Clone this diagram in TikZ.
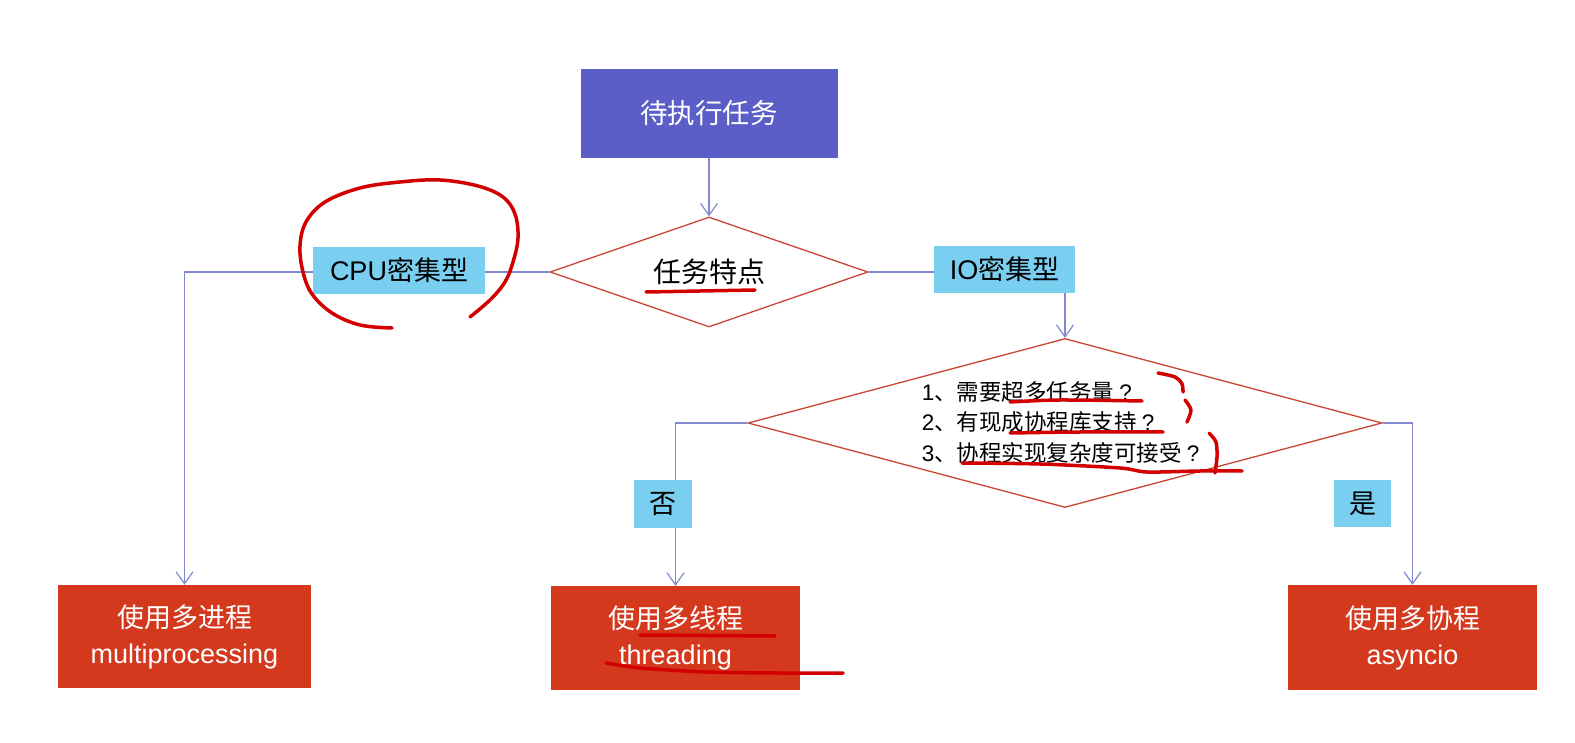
\documentclass[tikz,border=0pt]{standalone}
\usepackage{fontspec}
\setmainfont{Noto Sans CJK SC}
\newfontfamily\lat{Liberation Sans}
\newcommand\fwq{\makebox[1em][c]{\lat ?}}
\usetikzlibrary{shapes.geometric,arrows.meta}
\definecolor{topblue}{RGB}{92,94,200}
\definecolor{boxred}{RGB}{212,57,30}
\definecolor{lblue}{RGB}{122,207,240}
\definecolor{dred}{RGB}{200,70,50}
\definecolor{connc}{RGB}{128,136,208}
\definecolor{pen}{RGB}{210,0,0}
\tikzset{
  startbox/.style={rectangle, fill=topblue, text=white, inner sep=0pt, font=\fontsize{27.5}{30}\selectfont},
  endbox/.style={rectangle, fill=boxred, text=white, inner sep=0pt, align=center, font=\fontsize{27}{36}\selectfont},
  decision/.style={diamond, draw=dred, line width=1.3pt, fill=white, inner sep=0pt},
  tag/.style={rectangle, fill=lblue, text=black, inner sep=0pt, minimum height=47pt, font=\fontsize{27}{30}\selectfont},
  conn/.style={draw=connc, line width=1.2pt, -{Straight Barb[length=12pt,width=17pt,line width=1.2pt]}},
  ink/.style={draw=pen, line width=3.5pt, line cap=round, line join=round},
}
\begin{document}
\begin{tikzpicture}[x=1pt,y=-1pt]
\useasboundingbox[fill=white] (0,0) rectangle (1575,743);

% nodes
\node[startbox, minimum width=257pt, minimum height=89pt] (start) at (709,113.5) {待执行任务};
\node[decision, aspect=2.89, minimum width=318pt, minimum height=110pt, font=\fontsize{28}{30}\selectfont] (d1) at (709,272) {任务特点};
\node[decision, aspect=3.75, minimum width=634pt, minimum height=169pt] (d2) at (1065,423) {};
\node[align=left, inner sep=0pt, font=\fontsize{22.5}{30.5}\selectfont] (d2text) at (1063,422) {{\lat 1}、需要超多任务量\fwq\\{\lat 2}、有现成协程库支持\fwq\\{\lat 3}、协程实现复杂度可接受\fwq};

\node[endbox, minimum width=253pt, minimum height=103pt] (mp) at (184.5,636.5) {使用多进程\\{\lat multiprocessing}};
\node[endbox, minimum width=249pt, minimum height=104pt] (th) at (675.5,638) {使用多线程\\{\lat threading}};
\node[endbox, minimum width=249pt, minimum height=105pt] (as) at (1412.5,637.5) {使用多协程\\{\lat asyncio}};

% connectors
\draw[conn] (start.south) -- (d1.north);
\draw[conn] (d1.west) -| (mp.north);
\draw[conn] (d1.east) -| (d2.north);
\draw[conn] (d2.west) -| (th.north);
\draw[conn] (d2.east) -| (as.north);

% labels on connectors
\node[tag, minimum width=172pt] (cpu) at (399,270.5) {{\lat CPU}密集型};
\node[tag, minimum width=141pt] (io) at (1004.5,269.5) {{\lat IO}密集型};
\node[tag, minimum width=58pt, minimum height=48pt] (no) at (663,504) {否};
\node[tag, minimum width=57pt] (yes) at (1362.5,503.5) {是};

% hand-drawn annotations
\draw[ink] plot[smooth, tension=0.6] coordinates {(470,317) (490,300) (505,282) (513,262) (518,238) (515,214) (503,197) (478,186) (440,180) (400,182) (360,188) (325,202) (306,222) (300,246) (303,272) (312,294) (332,313) (360,325) (392,328)};
\draw[ink] (646,292) -- (755,290);
\draw[ink] plot[smooth] coordinates {(1010,402) (1060,400) (1142,401)};
\draw[ink] plot[smooth] coordinates {(1010,433) (1080,432) (1163,432)};
\draw[ink] plot[smooth, tension=0.5] coordinates {(962,463) (1040,464) (1120,468) (1147,472) (1200,471) (1242,471)};
\draw[ink] plot[smooth] coordinates {(1209,433) (1216,442) (1217,457) (1215,473)};
\draw[ink] plot[smooth] coordinates {(1158,373) (1175,377) (1182,384) (1183,392)};
\draw[ink] plot[smooth] coordinates {(1185,400) (1191,410) (1187,422)};
\draw[ink] (640,635) -- (775,636);
\draw[ink] plot[smooth, tension=0.5] coordinates {(606,663) (640,668) (707,672) (780,673) (843,673)};
\end{tikzpicture}
\end{document}
